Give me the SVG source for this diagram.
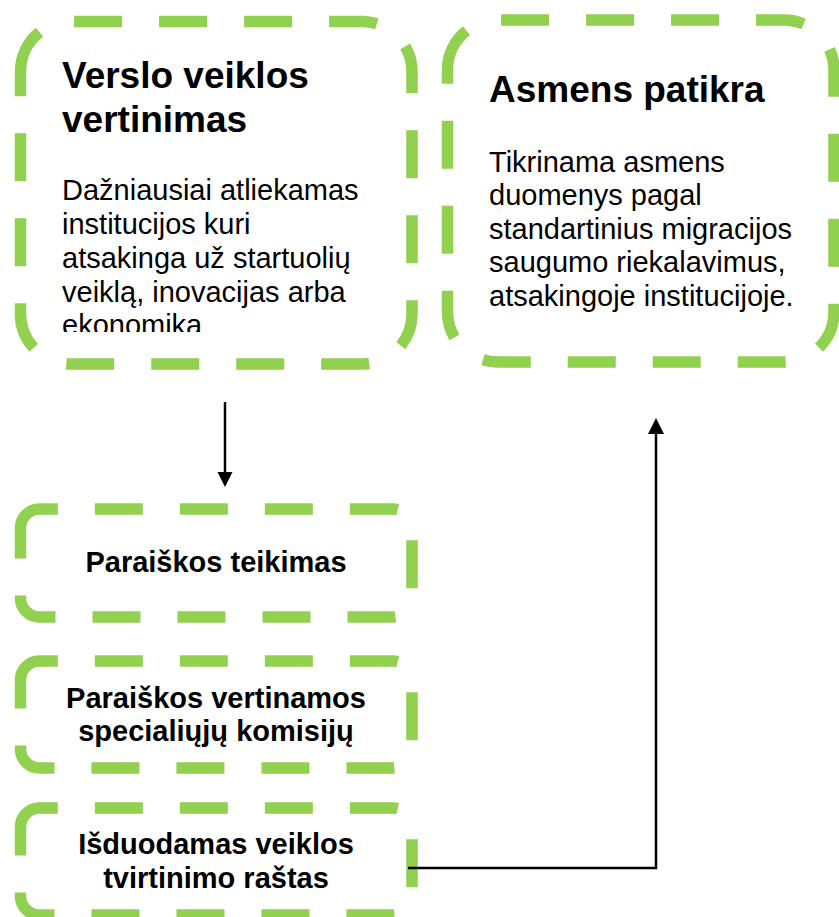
<svg xmlns="http://www.w3.org/2000/svg" width="839" height="917" viewBox="0 0 839 917">
  <style>
    .box { fill: none; stroke: #92D050; stroke-width: 11.5; stroke-dasharray: 48 37; stroke-linecap: butt; }
    .big { stroke-dashoffset: 3; }
    .t { font-family: "Liberation Sans", Arial, sans-serif; fill: #000; }
    .title { font-size: 37px; font-weight: bold; }
    .body { font-size: 29px; }
    .lbl { font-size: 29px; font-weight: bold; text-anchor: middle; }
    .conn { fill: none; stroke: #000; stroke-width: 2.5; }
  </style>
  <defs>
    <clipPath id="clipA">
      <rect x="30" y="30" width="375" height="302"/>
    </clipPath>
    <marker id="ah" viewBox="0 0 16 16" refX="14" refY="8" markerWidth="16" markerHeight="16" markerUnits="userSpaceOnUse" orient="auto">
      <path d="M0,0 L16,8 L0,16 Z" fill="#000"/>
    </marker>
  </defs>
  <rect x="0" y="0" width="839" height="917" fill="#fff"/>

  <g id="node-verslo">
    <path class="box big" d="M20.5,71.5 A50,50 0 0 1 70.5,21.5 H362 A50,50 0 0 1 412,71.5 V314 A50,50 0 0 1 362,364 H70.5 A50,50 0 0 1 20.5,314 Z"/>
    <g clip-path="url(#clipA)">
      <text class="t title" x="62" y="88">Verslo veiklos</text>
      <text class="t title" x="62" y="131.5">vertinimas</text>
      <text class="t body" x="62" y="200">Dažniausiai atliekamas</text>
      <text class="t body" x="62" y="234">institucijos kuri</text>
      <text class="t body" x="62" y="268">atsakinga už startuolių</text>
      <text class="t body" x="62" y="301.5">veiklą, inovacijas arba</text>
      <text class="t body" x="62" y="335">ekonomika</text>
    </g>
  </g>

  <g id="node-asmens">
    <path class="box big" d="M447.5,70 A50,50 0 0 1 497.5,20 H784 A50,50 0 0 1 834,70 V312 A50,50 0 0 1 784,362 H497.5 A50,50 0 0 1 447.5,312 Z"/>
    <text class="t title" x="489" y="102">Asmens patikra</text>
    <text class="t body" x="489" y="172">Tikrinama asmens</text>
    <text class="t body" x="489" y="205">duomenys pagal</text>
    <text class="t body" x="489" y="238.5">standartinius migracijos</text>
    <text class="t body" x="489" y="272">saugumo riekalavimus,</text>
    <text class="t body" x="489" y="306">atsakingoje institucijoje.</text>
  </g>

  <g id="node-teikimas">
    <path class="box" d="M20.5,528 A19,19 0 0 1 39.5,509 H393 A19,19 0 0 1 412,528 V598 A19,19 0 0 1 393,617 H39.5 A19,19 0 0 1 20.5,598 Z"/>
    <text class="t lbl" x="216" y="572">Paraiškos teikimas</text>
  </g>

  <g id="node-komisiju">
    <path class="box" d="M20.5,680 A19,19 0 0 1 39.5,661 H393 A19,19 0 0 1 412,680 V749 A19,19 0 0 1 393,768 H39.5 A19,19 0 0 1 20.5,749 Z"/>
    <text class="t lbl" x="216" y="708">Paraiškos vertinamos</text>
    <text class="t lbl" x="216" y="740.5">specialiųjų komisijų</text>
  </g>

  <g id="node-rastas">
    <path class="box" d="M20.5,827 A19,19 0 0 1 39.5,808 H393 A19,19 0 0 1 412,827 V896 A19,19 0 0 1 393,915 H39.5 A19,19 0 0 1 20.5,896 Z"/>
    <text class="t lbl" x="216" y="854">Išduodamas veiklos</text>
    <text class="t lbl" x="216" y="888">tvirtinimo raštas</text>
  </g>

  <g id="connectors">
    <path class="conn" d="M225,402 V473" />
    <polygon points="217.5,472 232.5,472 225,487" fill="#000"/>
    <path class="conn" d="M408,868 H656 V433" />
    <polygon points="648,434 664,434 656,418" fill="#000"/>
  </g>
</svg>
